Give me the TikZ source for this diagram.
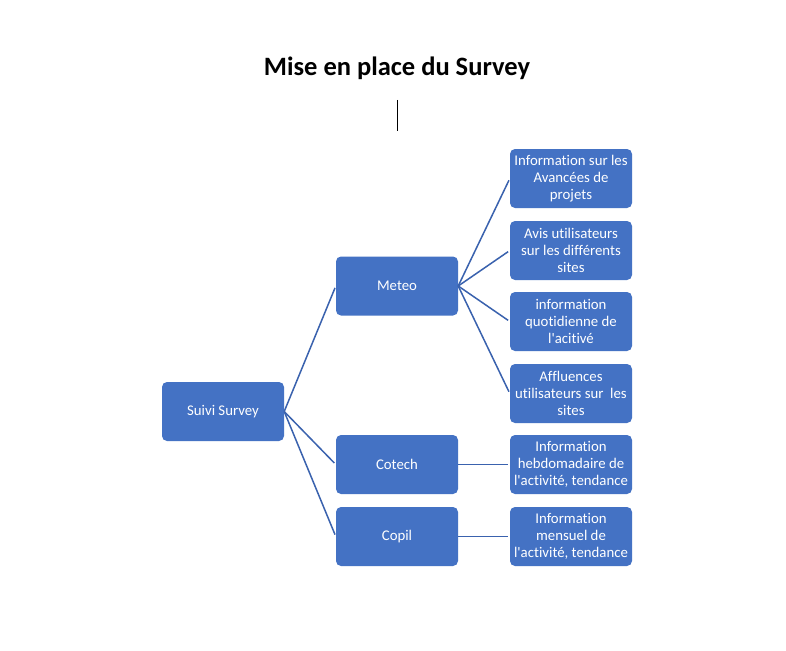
\documentclass[tikz,border=0pt]{standalone}
\usepackage{fontspec}
\setmainfont{Carlito}
\newfontfamily\carl{Carlito}[Ligatures=NoCommon]
\definecolor{boxblue}{HTML}{4472C4}
\definecolor{lineblue}{HTML}{3A62AE}
\tikzset{
  box/.style={fill=boxblue, draw=none, rounded corners=5pt, minimum width=122pt, minimum height=59pt,
    text=white, align=center, inner sep=0pt,
    font=\carl\fontsize{14.8pt}{17.2pt}\selectfont},
  link/.style={draw=lineblue, line width=1.5pt, shorten >=2pt}
}
\begin{document}
\begin{tikzpicture}[x=1pt,y=-1pt]
\useasboundingbox[fill=white] (0,0) rectangle (786,650);
\node[font=\carl\fontsize{26.5pt}{30pt}\selectfont\bfseries] (title) at (397,68) {Mise en place du Survey};
\coordinate (vt) at (397,100);
\coordinate (vb) at (397,131);
\draw[black, line width=1pt] (vt) -- (vb);

\node[box] (root) at (223,411.5) {Suivi Survey};
\node[box] (meteo) at (397,286) {Meteo};
\node[box] (cotech) at (397,464.5) {Cotech};
\node[box] (copil) at (397,536.5) {Copil};

\node[box] (m1) at (571,178.5) {Information sur les\\Avancées de\\projets};
\node[box] (m2) at (571,250.5) {Avis utilisateurs\\sur les différents\\sites};
\node[box] (m3) at (571,321.5) {information\\quotidienne de\\l'acitivé};
\node[box] (m4) at (571,393.5) {Affluences\\utilisateurs sur~ les\\sites};
\node[box] (c1) at (571,464.5) {Information\\hebdomadaire de\\l'activité, tendance};
\node[box] (p1) at (571,536.5) {Information\\mensuel de\\l'activité, tendance};

\draw[link] (root.east) -- (meteo.west);
\draw[link] (root.east) -- (cotech.west);
\draw[link] (root.east) -- (copil.west);
\draw[link] (meteo.east) -- (m1.west);
\draw[link] (meteo.east) -- (m2.west);
\draw[link] (meteo.east) -- (m3.west);
\draw[link] (meteo.east) -- (m4.west);
\draw[link] (cotech.east) -- (c1.west);
\draw[link] (copil.east) -- (p1.west);
\end{tikzpicture}
\end{document}
